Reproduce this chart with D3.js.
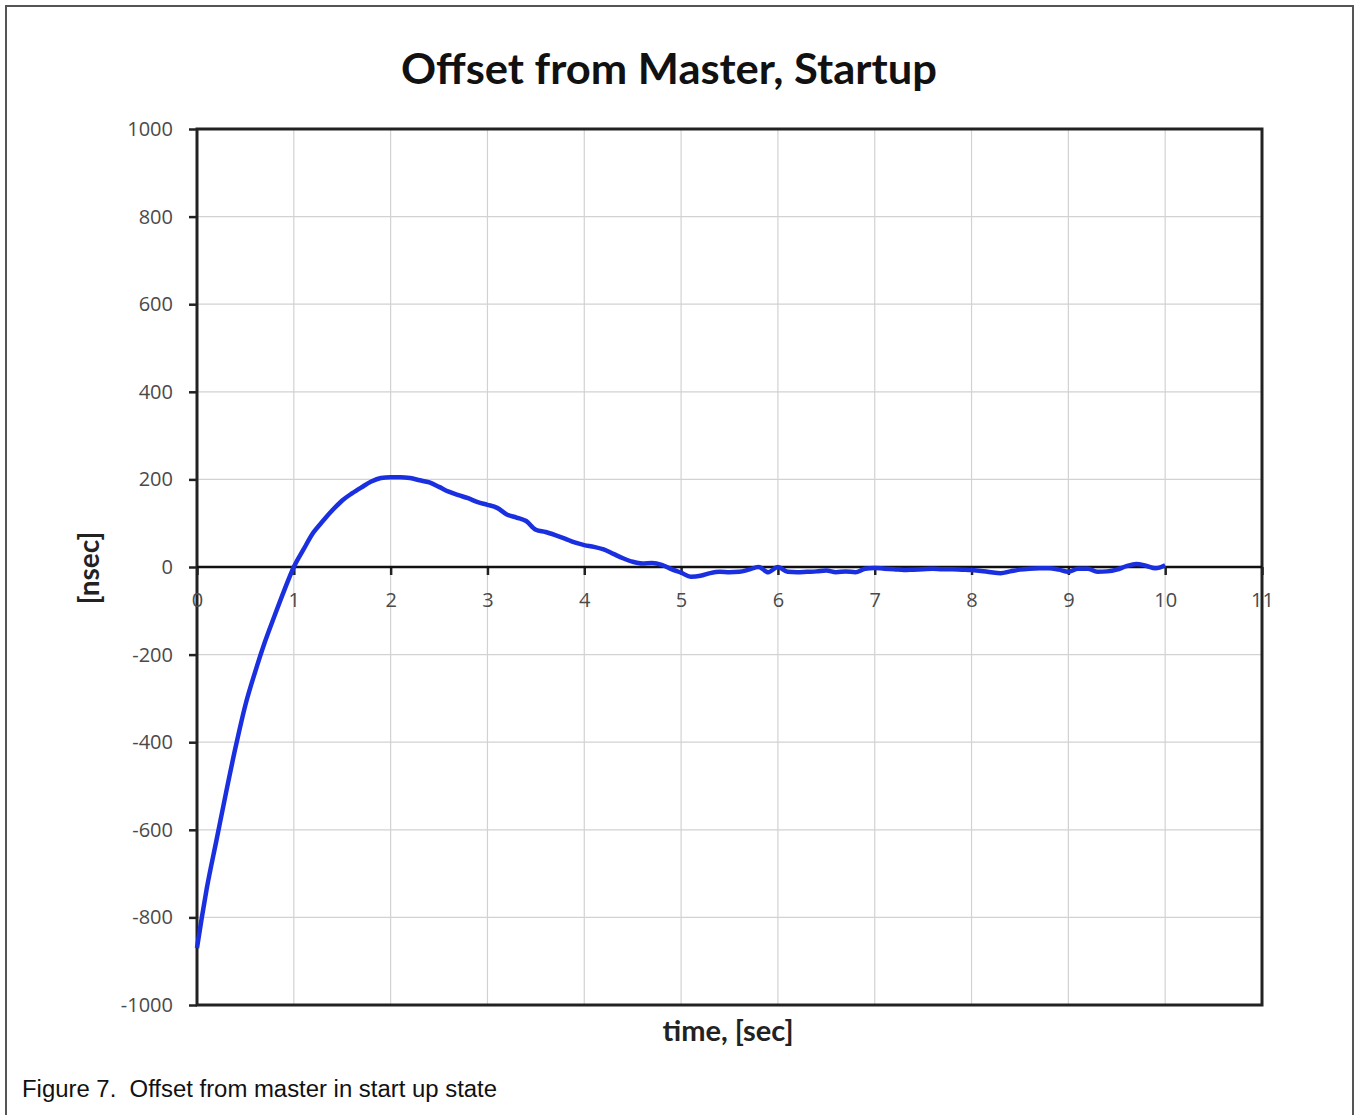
<!DOCTYPE html>
<html>
<head>
<meta charset="utf-8">
<script src="https://cdn.jsdelivr.net/npm/d3@7"></script>
<style>
  body { margin: 0; background: #fff; }
  svg { display: block; }
</style>
</head>
<body>
<div id="chart"></div>
<script>
// offset from master during startup
var times = [0, 0.05, 0.1, 0.2, 0.3, 0.4, 0.5, 0.6, 0.7, 0.8, 0.9,
  1.0, 1.1, 1.2, 1.3, 1.4, 1.5, 1.6, 1.7, 1.8, 1.9,
  2.0, 2.1, 2.2, 2.3, 2.4, 2.5, 2.6, 2.7, 2.8, 2.9,
  3.0, 3.1, 3.2, 3.3, 3.4, 3.5, 3.6, 3.7, 3.8, 3.9,
  4.0, 4.1, 4.2, 4.3, 4.4, 4.5, 4.6, 4.7, 4.8, 4.9,
  5.0, 5.1, 5.2, 5.3, 5.4, 5.5, 5.6, 5.7, 5.8, 5.9,
  6.0, 6.1, 6.2, 6.3, 6.4, 6.5, 6.6, 6.7, 6.8, 6.9,
  7.0, 7.1, 7.2, 7.3, 7.4, 7.5, 7.6, 7.7, 7.8, 7.9,
  8.0, 8.1, 8.2, 8.3, 8.4, 8.5, 8.6, 8.7, 8.8, 8.9,
  9.0, 9.1, 9.2, 9.3, 9.4, 9.5, 9.6, 9.7, 9.8, 9.9, 10.0];
var offsets = [-870, -800, -735, -625, -515, -410, -315, -240, -172, -112, -54,
  0, 40, 78, 105, 130, 152, 168, 182, 195, 203,
  205, 205, 203, 198, 193, 183, 172, 164, 157, 148,
  142, 135, 120, 113, 105, 85, 80, 73, 65, 56,
  50, 46, 40, 30, 20, 12, 8, 9, 5, -5,
  -13, -22, -20, -14, -11, -12, -11, -6, 0, -12,
  0, -11, -12, -11, -10, -8, -12, -10, -12, -4,
  -2, -4, -5, -7, -6, -5, -4, -5, -5, -6,
  -7, -9, -12, -14, -10, -6, -4, -3, -3, -6,
  -11, -4, -4, -11, -10, -6, 2, 7, 3, -3, 4];
var xTicks = [0, 1, 2, 3, 4, 5, 6, 7, 8, 9, 10, 11];
var yTicks = [-1000, -800, -600, -400, -200, 0, 200, 400, 600, 800, 1000];

var W = 1356, H = 1115;
var plot = { left: 197, right: 1262, top: 129, bottom: 1005 };

var svg = d3.select("#chart").append("svg")
  .attr("width", W).attr("height", H);

// outer frame
svg.append("rect")
  .attr("x", 6).attr("y", 6)
  .attr("width", 1347).attr("height", 1125)
  .attr("fill", "none").attr("stroke", "#555").attr("stroke-width", 2);

var x = d3.scaleLinear().domain([0, 11]).range([plot.left, plot.right]);
var y = d3.scaleLinear().domain([-1000, 1000]).range([plot.bottom, plot.top]);

// grid
svg.append("g").selectAll("line.vg")
  .data(xTicks.slice(1, -1)).enter().append("line")
  .attr("x1", d => x(d)).attr("x2", d => x(d))
  .attr("y1", plot.top).attr("y2", plot.bottom)
  .attr("stroke", "#d2d2d2").attr("stroke-width", 1.2);
svg.append("g").selectAll("line.hg")
  .data(yTicks.slice(1, -1)).enter().append("line")
  .attr("x1", plot.left).attr("x2", plot.right)
  .attr("y1", d => y(d)).attr("y2", d => y(d))
  .attr("stroke", "#d2d2d2").attr("stroke-width", 1.2);

// plot frame
svg.append("rect")
  .attr("x", plot.left).attr("y", plot.top)
  .attr("width", plot.right - plot.left).attr("height", plot.bottom - plot.top)
  .attr("fill", "none").attr("stroke", "#222").attr("stroke-width", 3);

// y axis
var yAxis = svg.append("g")
  .attr("transform", "translate(" + plot.left + ",0)")
  .call(d3.axisLeft(y).tickValues(yTicks).tickFormat(d => String(d)).tickSize(8).tickPadding(16));
yAxis.select(".domain").remove();
yAxis.selectAll("line").attr("stroke", "#222").attr("stroke-width", 2.5);
yAxis.selectAll("text")
  .attr("font-family", "Open Sans, sans-serif").attr("font-size", 20)
  .attr("fill", "#4a4a4a");

// x axis on the zero line
var xAxis = svg.append("g")
  .attr("transform", "translate(0," + y(0) + ")")
  .call(d3.axisBottom(x).tickValues(xTicks).tickFormat(d => String(d)).tickSize(8).tickPadding(18));
xAxis.select(".domain").remove();
xAxis.selectAll("line").attr("stroke", "#222").attr("stroke-width", 2.5);
xAxis.selectAll("text")
  .attr("font-family", "Open Sans, sans-serif").attr("font-size", 20)
  .attr("fill", "#4a4a4a");

svg.append("line")
  .attr("x1", plot.left).attr("x2", plot.right)
  .attr("y1", y(0)).attr("y2", y(0))
  .attr("stroke", "#111").attr("stroke-width", 2.5);

// data line
var pts = times.map((t, i) => [t, offsets[i]]);
svg.append("path")
  .datum(pts)
  .attr("fill", "none")
  .attr("stroke", "#1a30e0")
  .attr("stroke-width", 4.5)
  .attr("stroke-linejoin", "round")
  .attr("d", d3.line().x(d => x(d[0])).y(d => y(d[1])).curve(d3.curveMonotoneX));

// titles
svg.append("text")
  .attr("x", 669).attr("y", 84)
  .attr("text-anchor", "middle")
  .attr("font-family", "Lato, sans-serif").attr("font-weight", "bold")
  .attr("font-size", 42).attr("fill", "#111")
  .attr("textLength", 536).attr("lengthAdjust", "spacingAndGlyphs")
  .text("Offset from Master, Startup");

svg.append("text")
  .attr("x", 728).attr("y", 1041)
  .attr("text-anchor", "middle")
  .attr("font-family", "Lato, sans-serif").attr("font-weight", "bold")
  .attr("font-size", 29).attr("fill", "#222")
  .text("time, [sec]");

svg.append("text")
  .attr("transform", "translate(99,568) rotate(-90)")
  .attr("text-anchor", "middle")
  .attr("font-family", "Lato, sans-serif").attr("font-weight", "bold")
  .attr("font-size", 28).attr("fill", "#222")
  .text("[nsec]");

svg.append("text")
  .attr("x", 22).attr("y", 1097)
  .style("white-space", "pre")
  .attr("font-family", "Liberation Sans, Arial, sans-serif")
  .attr("font-size", 23).attr("fill", "#111")
  .attr("textLength", 475).attr("lengthAdjust", "spacingAndGlyphs")
  .text("Figure 7.  Offset from master in start up state");
</script>
</body>
</html>
